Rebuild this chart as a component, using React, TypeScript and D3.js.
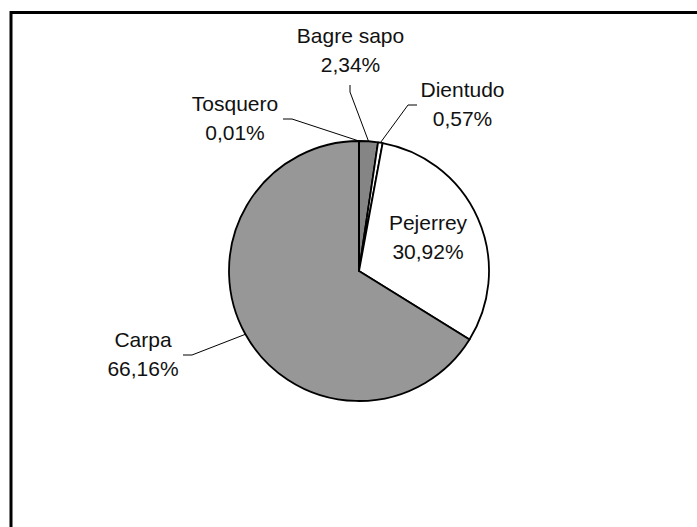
import React from "react";
import * as d3 from "d3";

const categories = ["Bagre sapo", "Dientudo", "Pejerrey", "Carpa", "Tosquero"];
const values = [2.34, 0.57, 30.92, 66.16, 0.01];
const valueLabels = ["2,34%", "0,57%", "30,92%", "66,16%", "0,01%"];
const fills = ["#858585", "#ffffff", "#ffffff", "#979797", "#cfcfcf"];

// label layout: center x, first baseline y, leader end & elbow (null = no leader)
const labelLayout = [
  { x: 350.5, y: 42.5, end: [350, 85], elbow: [350, 92] },
  { x: 462.5, y: 97, end: [417, 105], elbow: [408, 105] },
  { x: 428, y: 230, end: null, elbow: null },
  { x: 143, y: 346.5, end: [183, 355], elbow: [192, 355] },
  { x: 235, y: 110.5, end: [283, 119], elbow: [292, 119] },
];

const W = 697;
const H = 527;
const cx = 359;
const cy = 271;
const R = 130;

export default function App() {
  const data = categories.map((c, i) => ({ name: c, value: values[i], i }));
  const pie = d3.pie<any>().sort(null).value((d) => d.value).startAngle(0).endAngle(2 * Math.PI);
  const arcs = pie(data);
  const arc = d3.arc<any>().innerRadius(0).outerRadius(R);
  const rimArc = d3.arc<any>().innerRadius(R).outerRadius(R);
  const lineSpacing = 29;

  return (
    <svg
      width={W}
      height={H}
      style={{ position: "absolute", left: 0, top: 0, background: "#fff" }}
      fontFamily="'Liberation Sans', Arial, sans-serif"
    >
      <rect x={0} y={0} width={W} height={H} fill="#fff" />
      <rect x={11} y={12.5} width={W + 20} height={H + 20} fill="none" stroke="#000" strokeWidth={3} />
      <g transform={`translate(${cx},${cy})`}>
        {arcs.map((a, k) => (
          <path key={k} d={arc(a) as string} fill={fills[a.data.i]} stroke="#000" strokeWidth={1.8} strokeLinejoin="round" />
        ))}
      </g>
      {arcs.map((a, k) => {
        const lay = labelLayout[a.data.i];
        if (!lay.end) return null;
        const [sx, sy] = rimArc.centroid(a);
        const pts = [lay.end, lay.elbow, [cx + sx, cy + sy]];
        return (
          <path
            key={"l" + k}
            d={d3.line()(pts as [number, number][]) as string}
            fill="none"
            stroke="#000"
            strokeWidth={1}
          />
        );
      })}
      {arcs.map((a, k) => {
        const lay = labelLayout[a.data.i];
        return (
          <text key={"t" + k} x={lay.x} y={lay.y} textAnchor="middle" fontSize={21} fill="#111">
            <tspan x={lay.x}>{a.data.name}</tspan>
            <tspan x={lay.x} dy={lineSpacing}>{valueLabels[a.data.i]}</tspan>
          </text>
        );
      })}
    </svg>
  );
}
